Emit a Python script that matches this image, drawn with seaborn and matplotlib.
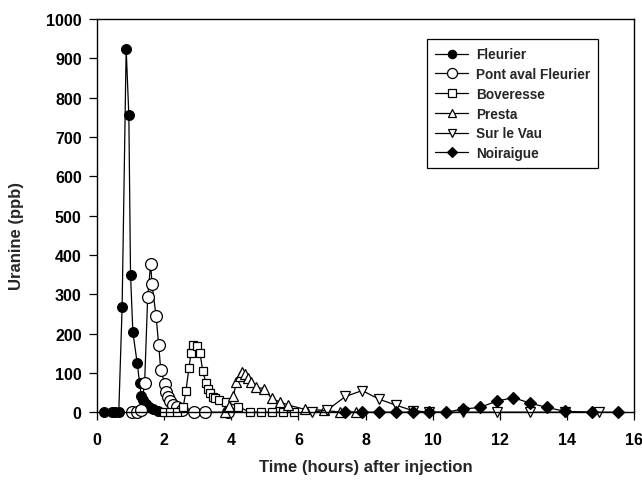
import pandas as pd
import matplotlib
import matplotlib.pyplot as plt
import seaborn as sns

matplotlib.use('Agg')

# time (hours) and uranine (ppb) for each station
fleurier_t = [0.2, 0.45, 0.55, 0.65, 0.75, 0.87, 0.95, 1.0, 1.07, 1.2, 1.27, 1.32, 1.38, 1.45, 1.55, 1.68, 1.83]
fleurier_c = [0, 0, 0, 0, 268, 925, 755, 350, 203, 124, 75, 40, 30, 22, 14, 7, 2]

pont_t = [1.03, 1.2, 1.31, 1.42, 1.51, 1.6, 1.64, 1.76, 1.84, 1.9, 2.02, 2.07, 2.12, 2.19, 2.27, 2.37, 2.52, 2.88, 3.23, 3.9]
pont_c = [0, 0, 5, 74, 292, 378, 326, 245, 170, 107, 72, 52, 38, 28, 19, 12, 6, 0, 0, 0]

boveresse_t = [2.0, 2.18, 2.37, 2.57, 2.65, 2.74, 2.8, 2.87, 2.97, 3.07, 3.15, 3.25, 3.3, 3.37, 3.45, 3.52,
               3.64, 3.84, 4.21, 4.56, 4.88, 5.22, 5.55, 5.88]
boveresse_c = [0, 0, 0, 14, 54, 113, 150, 171, 169, 150, 105, 73, 60, 49, 39, 35, 32, 26, 14, 0, 0, 0, 0, 0]

presta_t = [3.8, 3.92, 4.06, 4.15, 4.25, 4.32, 4.4, 4.5, 4.6, 4.75, 4.98, 5.2, 5.45, 5.7, 6.2, 6.75, 7.25, 7.7]
presta_c = [0, 16, 40, 76, 92, 103, 97, 88, 77, 63, 60, 35, 26, 18, 7, 5, 0, 0]

vau_t = [6.4, 6.85, 7.4, 7.9, 8.4, 8.9, 9.4, 9.9, 10.9, 11.9, 12.9, 13.95, 14.95]
vau_c = [0, 5, 40, 55, 33, 18, 4, 0, 0, 0, 0, 0, 0]

noiraigue_t = [7.4, 7.9, 8.4, 8.9, 9.4, 9.9, 10.4, 10.9, 11.4, 11.9, 12.4, 12.9, 13.4, 13.95, 14.75, 15.5]
noiraigue_c = [0, 0, 0, 0, 0, 0, 0, 8, 12, 28, 37, 23, 12, 2, 0, 0]

series = [
    ('Fleurier', fleurier_t, fleurier_c, 'o', 'black', 7),
    ('Pont aval Fleurier', pont_t, pont_c, 'o', 'white', 8.5),
    ('Boveresse', boveresse_t, boveresse_c, 's', 'white', 6.2),
    ('Presta', presta_t, presta_c, '^', 'white', 7.5),
    ('Sur le Vau', vau_t, vau_c, 'v', 'white', 7.5),
    ('Noiraigue', noiraigue_t, noiraigue_c, 'D', 'black', 6.5),
]

sns.set_style('ticks')
plt.rcParams['font.family'] = ['Liberation Sans', 'DejaVu Sans']
plt.rcParams['font.weight'] = 'bold'

fig = plt.figure(figsize=(6.42, 4.81), dpi=100)
ax = fig.add_axes([0.151, 0.141, 0.837, 0.817])

for name, t, c, marker, face, size in series:
    df = pd.DataFrame({'t': t, 'c': c})
    sns.lineplot(
        data=df, x='t', y='c',
        estimator=None, sort=False,
        color='black', lw=0.9,
        marker=marker, markersize=size,
        markerfacecolor=face, markeredgecolor='black', markeredgewidth=0.9,
        label=name, clip_on=False, ax=ax
    )

ax.set_xlim(0, 16)
ax.set_ylim(0, 1000)
ax.set_xticks(range(0, 17, 2))
ax.set_yticks(range(0, 1001, 100))
ax.tick_params(direction='out', length=6, width=0.9, labelsize=11.5, colors='black')
ax.tick_params(axis='x', pad=8)
ax.tick_params(axis='y', pad=5)
for side in ['top', 'right', 'left', 'bottom']:
    ax.spines[side].set_visible(True)
    ax.spines[side].set_color('black')
    ax.spines[side].set_linewidth(1.0)

ax.set_xlabel('Time (hours) after injection', fontsize=12, fontweight='bold', labelpad=9)
ax.set_ylabel('Uranine (ppb)', fontsize=12, fontweight='bold')
ax.yaxis.set_label_coords(-0.135, 0.45)

leg = ax.legend(
    loc='upper right', bbox_to_anchor=(0.933, 0.949), borderaxespad=0,
    frameon=True, fancybox=False, edgecolor='black', framealpha=1,
    fontsize=9.8, handlelength=2.4, labelspacing=0.42, borderpad=0.6,
    handletextpad=0.6, markerscale=0.85
)
leg.get_frame().set_linewidth(0.9)

plt.savefig('out.png', dpi=100)
plt.close(fig)
